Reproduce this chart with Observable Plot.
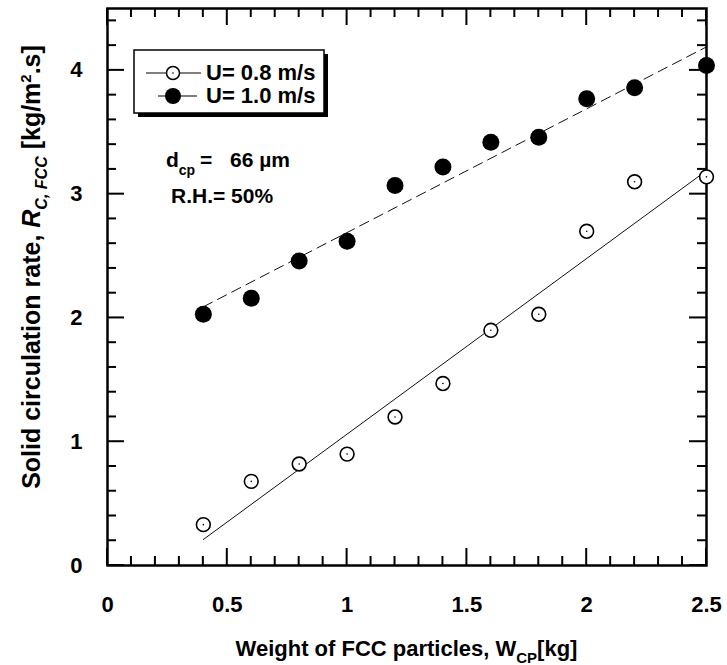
<!DOCTYPE html>
<html><head><meta charset="utf-8">
<script src="https://cdn.jsdelivr.net/npm/d3@7"></script>
<script src="https://cdn.jsdelivr.net/npm/@observablehq/plot@0.6"></script>
<style>
body{margin:0;background:#fff;}
#wrap{position:relative;width:727px;height:665px;}
</style></head><body><div id="wrap"></div>
<script>
// ---- data ----
const weightKg = [0.4, 0.6, 0.8, 1.0, 1.2, 1.4, 1.6, 1.8, 2.0, 2.2, 2.5];
const rateU08 = [0.33, 0.68, 0.82, 0.90, 1.20, 1.47, 1.90, 2.03, 2.70, 3.10, 3.14];
const rateU10 = [2.03, 2.16, 2.46, 2.62, 3.07, 3.22, 3.42, 3.46, 3.77, 3.86, 4.04];
const fitWeight = [0.4, 2.5];
const fitU08 = [0.21, 3.19];
const fitU10 = [2.09, 4.19];
const seriesNames = ["U= 0.8 m/s", "U= 1.0 m/s"];
const xMajor = [0, 0.5, 1, 1.5, 2, 2.5];
const xTickLabels = ["0", "0.5", "1", "1.5", "2", "2.5"];
const xMinor = [0.1,0.2,0.3,0.4,0.6,0.7,0.8,0.9,1.1,1.2,1.3,1.4,1.6,1.7,1.8,1.9,2.1,2.2,2.3,2.4];
const yMajor = [0, 1, 2, 3, 4];
const yTickLabels = ["0", "1", "2", "3", "4"];
const yMinor = [0.2,0.4,0.6,0.8,1.2,1.4,1.6,1.8,2.2,2.4,2.6,2.8,3.2,3.4,3.6,3.8,4.2,4.4];
const annotationLines = ["66 µm", "R.H.= 50%"];

const FONT = "Liberation Sans, Arial, Helvetica, sans-serif";
const W = 727, H = 665, ML = 107, MR = 21, MT = 8, MB = 100;
const MAJ = 17, MIN = 9;

const chart = Plot.plot({
  width: W,
  height: H,
  marginLeft: ML,
  marginRight: MR,
  marginTop: MT,
  marginBottom: MB,
  style: {fontFamily: FONT, fontWeight: "bold", fontSize: "22px", color: "black", background: "white"},
  x: {domain: [0, 2.5]},
  y: {domain: [0, 4.5]},
  marks: [
    Plot.axisX(xMajor, {anchor: "bottom", tickSize: 0, tickPadding: 31, label: null,
      tickFormat: (d, i) => xTickLabels[i], fontSize: 22, fontWeight: "bold", fill: "black"}),
    Plot.axisY(yMajor, {anchor: "left", tickSize: 0, tickPadding: 25, label: null,
      tickFormat: (d, i) => yTickLabels[i], fontSize: 22, fontWeight: "bold", fill: "black"}),
    Plot.frame({stroke: "black", strokeWidth: 2.5}),
    // fit lines
    Plot.line(fitWeight, {x: fitWeight, y: fitU08, stroke: "#111", strokeWidth: 1}),
    Plot.line(fitWeight, {x: fitWeight, y: fitU10, stroke: "#111", strokeWidth: 1, strokeDasharray: "10,6"}),
    // points
    Plot.dot(weightKg, {x: weightKg, y: rateU10, r: 8.5, fill: "black", stroke: "none"}),
    Plot.dot(weightKg, {x: weightKg, y: rateU08, r: 6.9, fill: "white", stroke: "black", strokeWidth: 1.6}),
    Plot.dot(weightKg, {x: weightKg, y: rateU08, r: 0.8, fill: "black", stroke: "none"})
  ]
});

document.getElementById("wrap").appendChild(chart);

const svgSel = d3.select(chart);
const xScale = chart.scale("x"), yScale = chart.scale("y");
const frameLeft = ML, frameRight = W - MR, frameTop = MT, frameBottom = H - MB;

// inward ticks on all four sides, positioned with Plot's own scales
const tickGroup = svgSel.append("g").attr("stroke", "black").attr("stroke-width", 2);
function drawXTicks(values, len) {
  values.forEach(v => {
    const px = xScale.apply(v);
    tickGroup.append("line").attr("x1", px).attr("x2", px).attr("y1", frameBottom).attr("y2", frameBottom - len).attr("stroke", "black").attr("stroke-width", 2);
    tickGroup.append("line").attr("x1", px).attr("x2", px).attr("y1", frameTop).attr("y2", frameTop + len).attr("stroke", "black").attr("stroke-width", 2);
  });
}
function drawYTicks(values, len) {
  values.forEach(v => {
    const py = yScale.apply(v);
    tickGroup.append("line").attr("x1", frameLeft).attr("x2", frameLeft + len).attr("y1", py).attr("y2", py).attr("stroke", "black").attr("stroke-width", 2);
    tickGroup.append("line").attr("x1", frameRight).attr("x2", frameRight - len).attr("y1", py).attr("y2", py).attr("stroke", "black").attr("stroke-width", 2);
  });
}
drawXTicks(xMajor, MAJ); drawXTicks(xMinor, MIN);
drawYTicks(yMajor, MAJ); drawYTicks(yMinor, MIN);

const ov = svgSel.append("g").attr("font-family", FONT).attr("font-weight", "bold")
  .attr("fill", "black").attr("text-anchor", "start");

// legend
const lg = ov.append("g");
lg.append("rect").attr("x", 138).attr("y", 54).attr("width", 190).attr("height", 63).attr("fill", "black");
lg.append("rect").attr("x", 134).attr("y", 50).attr("width", 190).attr("height", 63)
  .attr("fill", "white").attr("stroke", "black").attr("stroke-width", 1.5);
lg.append("line").attr("x1", 146).attr("x2", 201).attr("y1", 73).attr("y2", 73).attr("stroke", "black").attr("stroke-width", 1.2);
lg.append("circle").attr("cx", 173).attr("cy", 73).attr("r", 6.5).attr("fill", "white").attr("stroke", "black").attr("stroke-width", 1.5);
lg.append("circle").attr("cx", 173).attr("cy", 73).attr("r", 0.8).attr("fill", "black");
lg.append("line").attr("x1", 158).attr("x2", 197).attr("y1", 96).attr("y2", 96).attr("stroke", "black").attr("stroke-width", 1.2);
lg.append("circle").attr("cx", 173).attr("cy", 96).attr("r", 8).attr("fill", "black");
lg.append("text").attr("x", 206).attr("y", 80).attr("font-size", 22).text(seriesNames[0]);
lg.append("text").attr("x", 206).attr("y", 102.5).attr("font-size", 22).text(seriesNames[1]);

// annotation
const a1 = ov.append("text").attr("x", 166).attr("y", 167).attr("font-size", 21);
a1.append("tspan").text("d");
a1.append("tspan").attr("font-size", 14).attr("dy", 8).text("cp");
a1.append("tspan").attr("x", 200).attr("dy", -8).text("=");
a1.append("tspan").attr("x", 230).text(annotationLines[0]);
ov.append("text").attr("x", 171).attr("y", 203).attr("font-size", 21).text(annotationLines[1]);

// x title
const xt = ov.append("text").attr("x", 406.5).attr("y", 656).attr("text-anchor", "middle").attr("font-size", 22);
xt.append("tspan").text("Weight of FCC particles, W");
xt.append("tspan").attr("font-size", 15).attr("dy", 7).text("CP");
xt.append("tspan").attr("dy", -7).text("[kg]");

// y title
const yt = ov.append("text").attr("transform", "translate(40,267) rotate(-90)").attr("text-anchor", "middle").attr("font-size", 25);
yt.append("tspan").text("Solid circulation rate, ");
yt.append("tspan").attr("font-style", "italic").text("R");
yt.append("tspan").attr("font-style", "italic").attr("font-size", 16).attr("dy", 7).text("C, FCC");
yt.append("tspan").attr("dy", -7).text(" [kg/m");
yt.append("tspan").attr("font-size", 15).attr("dy", -9).text("2");
yt.append("tspan").attr("dy", 9).text(".s]");
</script></body></html>
